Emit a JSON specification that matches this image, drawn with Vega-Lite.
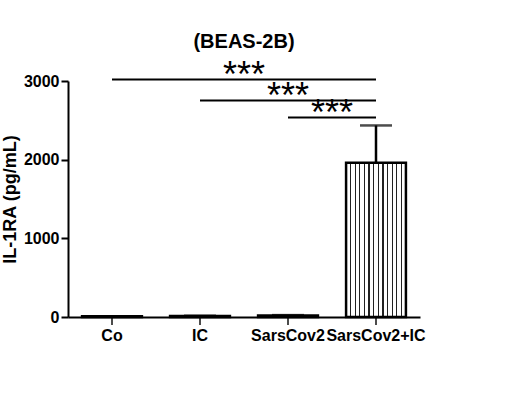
{
  "$schema": "https://vega.github.io/schema/vega-lite/v6.json",
  "autosize": {"type": "none"},
  "padding": {"left": 68, "top": 81, "right": 111, "bottom": 102},
  "width": 352,
  "height": 236,
  "background": "white",
  "title": {"text": "(BEAS-2B)", "font": "Liberation Sans", "fontSize": 20, "fontWeight": "bold", "color": "black", "anchor": "middle", "offset": 6},
  "config": {
    "view": {"stroke": null},
    "font": "Liberation Sans",
    "axis": {"domainColor": "black", "domainWidth": 2, "tickColor": "black", "tickWidth": 2, "labelColor": "black", "labelFont": "Liberation Sans", "labelFontWeight": "bold", "labelFontSize": 16, "titleColor": "black", "titleFont": "Liberation Sans", "titleFontWeight": "bold", "grid": false}
  },
  "datasets": {
    "bars": [
      {"group": "Co", "mean": 8, "err": 0},
      {"group": "IC", "mean": 12, "err": 4},
      {"group": "SarsCov2", "mean": 18, "err": 6},
      {"group": "SarsCov2+IC", "mean": 1960, "err": 475}
    ],
    "sig": [
      {"from": "Co", "to": "SarsCov2+IC", "y": 3020, "label": "***"},
      {"from": "IC", "to": "SarsCov2+IC", "y": 2753, "label": "***"},
      {"from": "SarsCov2", "to": "SarsCov2+IC", "y": 2537, "label": "***"}
    ]
  },
  "resolve": {"scale": {"x": "independent"}, "axis": {"x": "independent"}},
  "layer": [
    {
      "layer": [
        {
          "data": {"name": "bars"},
          "mark": {
            "type": "bar",
            "stroke": "black",
            "strokeWidth": 2.5,
            "fill": {
              "gradient": "linear", "x1": 0, "x2": 1, "y1": 0, "y2": 0,
              "stops": [
                {"offset": 0, "color": "white"},
                {"offset": 0.0669, "color": "white"}, {"offset": 0.0669, "color": "#222"}, {"offset": 0.0869, "color": "#222"}, {"offset": 0.0869, "color": "white"},
                {"offset": 0.1438, "color": "white"}, {"offset": 0.1438, "color": "#222"}, {"offset": 0.1638, "color": "#222"}, {"offset": 0.1638, "color": "white"},
                {"offset": 0.2208, "color": "white"}, {"offset": 0.2208, "color": "#222"}, {"offset": 0.2408, "color": "#222"}, {"offset": 0.2408, "color": "white"},
                {"offset": 0.2977, "color": "white"}, {"offset": 0.2977, "color": "#222"}, {"offset": 0.3177, "color": "#222"}, {"offset": 0.3177, "color": "white"},
                {"offset": 0.3746, "color": "white"}, {"offset": 0.3746, "color": "#222"}, {"offset": 0.3946, "color": "#222"}, {"offset": 0.3946, "color": "white"},
                {"offset": 0.4515, "color": "white"}, {"offset": 0.4515, "color": "#222"}, {"offset": 0.4715, "color": "#222"}, {"offset": 0.4715, "color": "white"},
                {"offset": 0.5285, "color": "white"}, {"offset": 0.5285, "color": "#222"}, {"offset": 0.5485, "color": "#222"}, {"offset": 0.5485, "color": "white"},
                {"offset": 0.6054, "color": "white"}, {"offset": 0.6054, "color": "#222"}, {"offset": 0.6254, "color": "#222"}, {"offset": 0.6254, "color": "white"},
                {"offset": 0.6823, "color": "white"}, {"offset": 0.6823, "color": "#222"}, {"offset": 0.7023, "color": "#222"}, {"offset": 0.7023, "color": "white"},
                {"offset": 0.7592, "color": "white"}, {"offset": 0.7592, "color": "#222"}, {"offset": 0.7792, "color": "#222"}, {"offset": 0.7792, "color": "white"},
                {"offset": 0.8362, "color": "white"}, {"offset": 0.8362, "color": "#222"}, {"offset": 0.8562, "color": "#222"}, {"offset": 0.8562, "color": "white"},
                {"offset": 0.9131, "color": "white"}, {"offset": 0.9131, "color": "#222"}, {"offset": 0.9331, "color": "#222"}, {"offset": 0.9331, "color": "white"},
                {"offset": 1, "color": "white"}
              ]
            }
          },
          "encoding": {
            "x": {
              "field": "group", "type": "nominal", "sort": null,
              "scale": {"domain": ["Co", "IC", "SarsCov2", "SarsCov2+IC"], "paddingInner": 0.32, "paddingOuter": 0.16},
              "axis": {"title": null, "labelAngle": 0, "labelAlign": "center", "labelBaseline": "top", "ticks": false, "labelPadding": 10}
            },
            "y": {
              "field": "mean", "type": "quantitative",
              "scale": {"domain": [0, 3000], "nice": false},
              "axis": {"title": "IL-1RA (pg/mL)", "titleFontSize": 18, "format": "d", "values": [0, 1000, 2000, 3000], "tickSize": 7, "labelPadding": 2, "titlePadding": 4}
            }
          }
        },
        {
          "data": {"name": "bars"},
          "mark": {"type": "tick", "orient": "vertical", "color": "black", "size": 8, "thickness": 2, "yOffset": 4, "clip": false},
          "encoding": {
            "x": {"field": "group", "type": "nominal"},
            "y": {"datum": 0, "type": "quantitative"}
          }
        },
        {
          "data": {"name": "bars"},
          "transform": [{"calculate": "datum.mean + datum.err", "as": "hi"}],
          "mark": {"type": "rule", "color": "black", "strokeWidth": 2.5},
          "encoding": {
            "x": {"field": "group", "type": "nominal"},
            "y": {"field": "mean", "type": "quantitative"},
            "y2": {"field": "hi"}
          }
        },
        {
          "data": {"name": "bars"},
          "transform": [{"calculate": "datum.mean + datum.err", "as": "hi"}],
          "mark": {"type": "tick", "color": "black", "size": 32, "thickness": 2.5, "orient": "horizontal"},
          "encoding": {
            "x": {"field": "group", "type": "nominal"},
            "y": {"field": "hi", "type": "quantitative"}
          }
        },
        {
          "data": {"name": "sig"},
          "mark": {"type": "rule", "color": "black", "strokeWidth": 2},
          "encoding": {
            "x": {"field": "from", "type": "nominal"},
            "x2": {"field": "to"},
            "y": {"field": "y", "type": "quantitative"}
          }
        }
      ]
    },
    {
      "data": {"name": "sig"},
      "transform": [
        {"calculate": "(indexof(['Co','IC','SarsCov2','SarsCov2+IC'], datum.from) + indexof(['Co','IC','SarsCov2','SarsCov2+IC'], datum.to)) / 2 + 0.5", "as": "mid"}
      ],
      "mark": {"type": "text", "font": "Liberation Sans", "fontSize": 36, "color": "black", "baseline": "alphabetic", "dy": 8},
      "encoding": {
        "x": {"field": "mid", "type": "quantitative", "scale": {"domain": [0, 4], "nice": false, "zero": false}, "axis": null},
        "y": {"field": "y", "type": "quantitative"},
        "text": {"field": "label"}
      }
    }
  ]
}
